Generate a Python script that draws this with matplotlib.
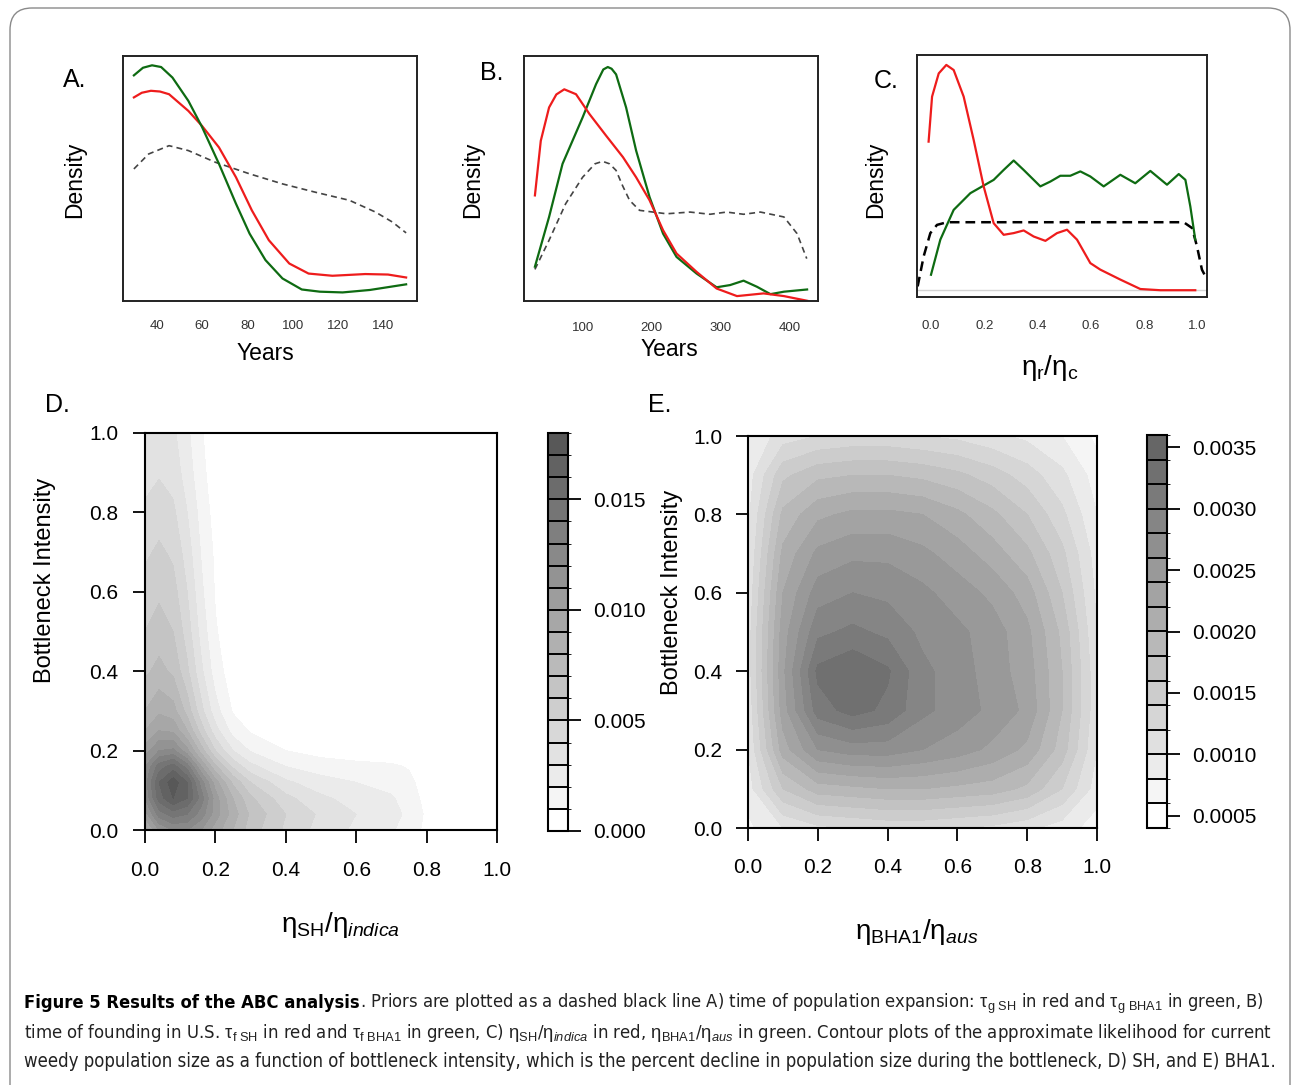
import numpy as np
import matplotlib.pyplot as plt
from matplotlib.colors import ListedColormap, BoundaryNorm
from matplotlib.patches import FancyBboxPatch
from matplotlib.font_manager import FontProperties, fontManager

plt.rcParams['font.family'] = ['Liberation Sans', 'DejaVu Sans']
plt.rcParams['mathtext.fontset'] = 'custom'
plt.rcParams['mathtext.rm'] = 'Liberation Sans'
plt.rcParams['mathtext.it'] = 'Liberation Sans:italic'
plt.rcParams['mathtext.bf'] = 'Liberation Sans:bold'
plt.rcParams['lines.scale_dashes'] = False

# ---- panel A: time of population expansion (density, relative height) ----
years_A_green = [30, 34, 38, 42, 47, 54, 60, 67.5, 75, 81, 88, 95.5, 104, 112, 122, 134, 150]
dens_A_green = [0.921, 0.952, 0.962, 0.955, 0.912, 0.817, 0.711, 0.560, 0.397, 0.275,
                0.167, 0.092, 0.047, 0.038, 0.035, 0.045, 0.068]
years_A_red = [30, 33.5, 37.5, 41.5, 45.5, 54, 60, 67.5, 75, 82, 89.5, 98.5, 107, 117.5, 132, 142, 150]
dens_A_red = [0.831, 0.850, 0.858, 0.855, 0.844, 0.776, 0.715, 0.627, 0.505, 0.370,
              0.248, 0.153, 0.112, 0.103, 0.110, 0.108, 0.096]
years_A_prior = [30, 36.5, 45.5, 54, 66, 81, 95.5, 110, 125, 136.5, 144, 150]
dens_A_prior = [0.539, 0.600, 0.634, 0.614, 0.566, 0.519, 0.478, 0.444, 0.411, 0.363, 0.322, 0.278]
ticks_A = [40, 60, 80, 100, 120, 140]

# ---- panel B: time of founding ----
years_B_green = [31, 51.5, 71, 100, 119.5, 130, 136.5, 142, 148.5, 163, 177.5, 197, 216.5,
                 236, 265, 294, 313.5, 333, 352.5, 372, 391.5, 425]
dens_B_green = [0.140, 0.343, 0.560, 0.749, 0.885, 0.945, 0.955, 0.948, 0.925, 0.790, 0.614,
                0.424, 0.275, 0.180, 0.112, 0.056, 0.065, 0.083, 0.058, 0.028, 0.038, 0.047]
years_B_red = [31, 39.5, 51.5, 62, 73.5, 90.5, 110, 134, 158.5, 177.5, 197, 216.5, 236, 265,
               294, 323.5, 362, 391.5, 425]
dens_B_red = [0.431, 0.654, 0.790, 0.843, 0.864, 0.844, 0.763, 0.675, 0.587, 0.505, 0.411,
              0.289, 0.194, 0.119, 0.051, 0.020, 0.031, 0.020, 0.001]
years_B_prior = [31, 51.5, 75.5, 100, 118, 129, 139, 148.5, 158, 168, 182.5, 221.5, 255.5,
                 284.5, 308.5, 333, 357.5, 391.5, 410.5, 424.5]
dens_B_prior = [0.129, 0.248, 0.397, 0.505, 0.560, 0.570, 0.560, 0.533, 0.470, 0.411, 0.370,
                0.356, 0.363, 0.354, 0.363, 0.354, 0.363, 0.343, 0.275, 0.173]
ticks_B = [100, 200, 300, 400]

# ---- panel C: eta ratio ----
ratio_C_red = [-0.009, 0.004, 0.029, 0.0575, 0.085, 0.1225, 0.16, 0.1975, 0.235, 0.2725, 0.31,
               0.3475, 0.385, 0.429, 0.4725, 0.51, 0.5475, 0.5975, 0.635, 0.71, 0.785, 0.86, 0.991]
dens_C_red = [0.642, 0.828, 0.924, 0.959, 0.938, 0.828, 0.649, 0.457, 0.305, 0.257, 0.264,
              0.275, 0.250, 0.232, 0.264, 0.278, 0.237, 0.140, 0.113, 0.072, 0.033, 0.028, 0.028]
ratio_C_green = [0.0, 0.035, 0.085, 0.1475, 0.235, 0.2725, 0.31, 0.3475, 0.41, 0.4475, 0.485,
                 0.5225, 0.56, 0.5975, 0.6475, 0.71, 0.766, 0.8225, 0.885, 0.929, 0.954, 0.9725, 0.991]
dens_C_green = [0.092, 0.237, 0.360, 0.429, 0.484, 0.525, 0.564, 0.525, 0.457, 0.477, 0.501,
                0.501, 0.519, 0.498, 0.457, 0.505, 0.470, 0.521, 0.464, 0.508, 0.484, 0.374, 0.237]
ratio_C_prior = [-0.05, -0.0275, -0.0025, 0.0225, 0.06, 0.9475, 0.979, 0.9975, 1.016, 1.0325]
dens_C_prior = [0.044, 0.168, 0.264, 0.298, 0.309, 0.309, 0.285, 0.209, 0.113, 0.078]
zero_C = 0.03
ticks_C = [0.0, 0.2, 0.4, 0.6, 0.8, 1.0]

# ---- panel D: likelihood surface for SH (units of 1e-3) ----
xs_D = [0.0, 0.04, 0.08, 0.12, 0.16, 0.2, 0.25, 0.3, 0.4, 0.5, 0.6, 0.7, 0.75, 0.8, 0.9, 1.0]
ys_D = [0.0, 0.04, 0.08, 0.12, 0.16, 0.2, 0.25, 0.3, 0.4, 0.5, 0.6, 0.7, 0.8, 0.9, 1.0]
lik_D = [
    [8.5, 11.0, 12.0, 12.0, 11.0, 9.5, 8.0, 6.5, 4.8, 3.6, 2.8, 2.1, 1.6, 0.7, 0, 0],
    [10.5, 13.5, 14.5, 14.0, 12.5, 10.5, 8.5, 6.8, 5.0, 3.8, 3.0, 2.3, 1.8, 0.8, 0, 0],
    [12.0, 15.5, 17.0, 16.0, 13.5, 10.5, 8.0, 6.2, 4.3, 3.2, 2.6, 2.1, 1.6, 0.6, 0, 0],
    [12.5, 16.0, 17.6, 16.0, 12.5, 9.5, 6.8, 5.0, 3.2, 2.4, 2.0, 1.7, 1.3, 0.4, 0, 0],
    [12.0, 14.5, 15.5, 13.5, 10.0, 7.2, 4.8, 3.3, 2.0, 1.5, 1.3, 1.2, 0.9, 0.2, 0, 0],
    [10.5, 12.0, 12.2, 10.3, 7.5, 5.0, 3.0, 1.9, 1.0, 0.6, 0.4, 0.2, 0.1, 0, 0, 0],
    [9.0, 10.0, 9.8, 8.0, 5.5, 3.4, 1.6, 0.9, 0.2, 0, 0, 0, 0, 0, 0, 0],
    [8.0, 8.8, 8.4, 6.6, 4.3, 2.4, 0.9, 0.3, 0, 0, 0, 0, 0, 0, 0, 0],
    [6.8, 7.3, 6.8, 5.2, 3.2, 1.5, 0.4, 0.05, 0, 0, 0, 0, 0, 0, 0, 0],
    [6.0, 6.5, 6.0, 4.5, 2.6, 1.1, 0.3, 0, 0, 0, 0, 0, 0, 0, 0, 0],
    [5.4, 5.8, 5.4, 4.0, 2.2, 0.9, 0.2, 0, 0, 0, 0, 0, 0, 0, 0, 0],
    [4.8, 5.2, 4.8, 3.5, 1.9, 0.8, 0.1, 0, 0, 0, 0, 0, 0, 0, 0, 0],
    [4.2, 4.5, 4.2, 3.0, 1.6, 0.6, 0.1, 0, 0, 0, 0, 0, 0, 0, 0, 0],
    [3.6, 3.9, 3.6, 2.5, 1.3, 0.4, 0, 0, 0, 0, 0, 0, 0, 0, 0, 0],
    [3.2, 3.5, 3.2, 2.2, 1.1, 0.3, 0, 0, 0, 0, 0, 0, 0, 0, 0, 0],
]
levels_D = np.linspace(0, 0.018, 19)
cbar_ticks_D = [0.0, 0.005, 0.010, 0.015]

# ---- panel E: likelihood surface for BHA1 (units of 1e-4) ----
xs_E = [0.0, 0.1, 0.2, 0.3, 0.4, 0.5, 0.6, 0.7, 0.8, 0.9, 1.0]
ys_E = [0.0, 0.1, 0.2, 0.3, 0.4, 0.5, 0.6, 0.7, 0.8, 0.9, 1.0]
lik_E = [
    [7.5, 10.0, 11.5, 12.0, 12.5, 12.5, 12.0, 11.5, 10.5, 9.0, 7.0],
    [9.0, 16.0, 19.0, 19.5, 20.0, 20.0, 19.5, 19.0, 17.5, 14.0, 9.0],
    [10.0, 21.0, 26.0, 27.0, 27.0, 26.0, 25.0, 23.5, 21.5, 17.0, 10.0],
    [10.5, 23.0, 31.0, 32.8, 31.5, 28.5, 27.0, 25.5, 23.5, 18.0, 10.5],
    [11.0, 23.5, 32.5, 33.8, 32.3, 28.5, 27.0, 25.0, 23.0, 18.0, 10.5],
    [11.0, 23.0, 29.5, 30.5, 29.5, 27.5, 26.5, 25.0, 22.5, 17.5, 10.0],
    [10.5, 22.0, 27.0, 28.0, 27.5, 26.5, 25.0, 23.5, 21.0, 16.0, 9.5],
    [10.0, 20.5, 24.5, 25.5, 25.5, 24.5, 23.0, 21.0, 18.5, 14.5, 9.0],
    [9.5, 18.5, 21.5, 22.5, 22.5, 22.0, 20.5, 18.5, 16.0, 12.5, 8.0],
    [9.0, 15.5, 17.5, 18.0, 18.0, 17.5, 16.5, 15.0, 13.0, 10.5, 7.0],
    [8.0, 11.0, 12.0, 12.5, 12.5, 12.0, 11.5, 10.5, 9.5, 8.0, 5.5],
]
levels_E = np.linspace(0.0004, 0.0036, 17)
cbar_ticks_E = [0.0005, 0.0010, 0.0015, 0.0020, 0.0025, 0.0030, 0.0035]

RED = '#ee1c1c'
GREEN = '#0e6b12'

W, H = 1292, 1085
fig = plt.figure(figsize=(W / 100, H / 100), dpi=100)


def px_axes(left, top, right, bottom):
    return fig.add_axes([left / W, 1 - bottom / H, (right - left) / W, (bottom - top) / H])


def ftext(x, y, s, **kw):
    kw.setdefault('ha', 'center')
    kw.setdefault('va', 'center')
    return fig.text(x / W, 1 - y / H, s, **kw)


# rounded outer frame
bg = fig.add_axes([0, 0, 1, 1], zorder=-5)
bg.set_xlim(0, W)
bg.set_ylim(H, 0)
bg.axis('off')
bg.add_patch(FancyBboxPatch((10, 8), 1280, 1120, boxstyle='round,pad=0,rounding_size=22',
                            fc='none', ec='#8a8a8a', lw=1.0))


def density_axes(ax, xlim, ticks, labels, pad):
    ax.set_xlim(*xlim)
    ax.set_ylim(0, 1)
    ax.set_yticks([])
    ax.set_xticks(ticks)
    ax.set_xticklabels(labels)
    ax.tick_params(axis='x', length=0, pad=pad, labelsize=9.5, labelcolor='#333333')
    for sp in ax.spines.values():
        sp.set_color('#222222')
        sp.set_linewidth(1.4)


# A
axA = px_axes(123, 56, 417, 301)
axA.plot(years_A_prior, dens_A_prior, color='#444444', lw=1.2, ls=(0, (4.3, 3.0)))
axA.plot(years_A_red, dens_A_red, color=RED, lw=1.6)
axA.plot(years_A_green, dens_A_green, color=GREEN, lw=1.6)
density_axes(axA, (25.2, 154.8), ticks_A, [str(t) for t in ticks_A], 14.0)

# B
axB = px_axes(524, 56, 818, 301)
axB.plot(years_B_prior, dens_B_prior, color='#444444', lw=1.2, ls=(0, (4.3, 3.0)))
axB.plot(years_B_green, dens_B_green, color=GREEN, lw=1.6)
axB.plot(years_B_red, dens_B_red, color=RED, lw=1.6)
density_axes(axB, (15.2, 440.8), ticks_B, [str(t) for t in ticks_B], 15.4)

# C
axC = px_axes(917, 55, 1207, 297)
axC.axhline(zero_C, color='#d4d4d4', lw=1.0)
axC.plot(ratio_C_prior, dens_C_prior, color='black', lw=1.8, ls=(0, (7.0, 4.3)))
axC.plot(ratio_C_green, dens_C_green, color=GREEN, lw=1.6)
axC.plot(ratio_C_red, dens_C_red, color=RED, lw=1.6)
density_axes(axC, (-0.0525, 1.035), ticks_C, ['%.1f' % t for t in ticks_C], 16.2)

for x, y, s in [(75, 80, 'A.'), (492, 73, 'B.'), (886, 81, 'C.'), (57, 405, 'D.'), (660, 405, 'E.')]:
    ftext(x, y, s, fontsize=18)
for x in (75, 473, 876):
    ftext(x, 180, 'Density', fontsize=16.5, rotation=90)
ftext(265, 354, 'Years', fontsize=16.5)
ftext(669, 350, 'Years', fontsize=16.5)
ftext(1050, 368, r'$\mathrm{\eta_r/\eta_c}$', fontsize=20)


def gray_cmap(n, darkest):
    return ListedColormap([str(g) for g in np.linspace(1.0, darkest, n)])


def contour_panel(box, cbox, xs, ys, z, scale, levels, darkest, cticks, cfmt, xpad, ypad):
    ax = px_axes(*box)
    n = len(levels) - 1
    cmap = gray_cmap(n, darkest)
    norm = BoundaryNorm(levels, n)
    cs = ax.contourf(xs, ys, np.array(z) * scale, levels=levels, cmap=cmap, norm=norm)
    ax.set_xlim(0, 1)
    ax.set_ylim(0, 1)
    ticks = [0.0, 0.2, 0.4, 0.6, 0.8, 1.0]
    ax.set_xticks(ticks)
    ax.set_yticks(ticks)
    ax.set_xticklabels(['%.1f' % t for t in ticks])
    ax.set_yticklabels(['%.1f' % t for t in ticks])
    ax.tick_params(axis='x', length=9, width=1.3, pad=xpad, labelsize=15)
    ax.tick_params(axis='y', length=9, width=1.3, pad=ypad, labelsize=15)
    for sp in ax.spines.values():
        sp.set_linewidth(1.5)
    cax = px_axes(*cbox)
    cb = fig.colorbar(cs, cax=cax, drawedges=True)
    cb.outline.set_linewidth(1.5)
    cb.dividers.set_color('black')
    cb.dividers.set_linewidth(1.4)
    cb.set_ticks(cticks)
    cb.set_ticklabels([cfmt % t for t in cticks])
    cax.tick_params(length=9, width=1.3, pad=9, labelsize=15)
    return ax


contour_panel((145, 433, 497, 830), (548, 433, 568, 831), xs_D, ys_D, lik_D, 1e-3,
              levels_D, 0.345, cbar_ticks_D, '%.3f', 13.6, 10)
contour_panel((748, 436, 1097, 828), (1147, 435, 1167, 828), xs_E, ys_E, lik_E, 1e-4,
              levels_E, 0.40, cbar_ticks_E, '%.4f', 12.3, 9.4)

ftext(45, 580, 'Bottleneck Intensity', fontsize=17, rotation=90)
ftext(672, 592, 'Bottleneck Intensity', fontsize=17, rotation=90)
ftext(340, 925, r'$\mathrm{\eta_{SH}/\eta}_{\mathit{indica}}$', fontsize=20)
ftext(917, 932, r'$\mathrm{\eta_{BHA1}/\eta}_{\mathit{aus}}$', fontsize=20)

# ---- caption: pick a narrow face if one is installed ----
names = {f.name for f in fontManager.ttflist}
condensed = [f.name for f in fontManager.ttflist
             if f.stretch in ('condensed', 'semi-condensed') or 'Narrow' in f.name
             or 'Condensed' in f.name]
if 'Liberation Sans Narrow' in names:
    cap_prop = dict(family='Liberation Sans Narrow')
elif 'DejaVu Sans' in condensed:
    cap_prop = dict(family='DejaVu Sans', stretch='condensed')
else:
    cap_prop = dict(family='Liberation Sans')
renderer = fig.canvas.get_renderer()


def caption_line(pieces, x0, baseline, width):
    objs = [fig.text(0, 0, s, fontsize=12, fontweight=w, color=c, va='baseline', ha='left',
                     **cap_prop) for s, w, c in pieces]
    total = sum(o.get_window_extent(renderer).width for o in objs)
    fs = 12 * width / total
    x = x0
    for o in objs:
        o.set_fontsize(fs)
        o.set_position((x / W, 1 - baseline / H))
        x += o.get_window_extent(renderer).width


caption_line([('Figure 5 Results of the ABC analysis', 'bold', 'black'),
              (r'. Priors are plotted as a dashed black line A) time of population expansion: '
               r'$\mathrm{\tau}_{\mathrm{g\ SH}}$ in red and $\mathrm{\tau}_{\mathrm{g\ BHA1}}$'
               r' in green, B)', 'normal', '#222222')], 24, 1008, 1241)
caption_line([(r'time of founding in U.S. $\mathrm{\tau}_{\mathrm{f\ SH}}$ in red and '
               r'$\mathrm{\tau}_{\mathrm{f\ BHA1}}$ in green, C) $\mathrm{\eta}_{\mathrm{SH}}$/'
               r'$\mathrm{\eta}_{\mathit{indica}}$ in red, $\mathrm{\eta}_{\mathrm{BHA1}}$/'
               r'$\mathrm{\eta}_{\mathit{aus}}$ in green. Contour plots of the approximate '
               r'likelihood for current', 'normal', '#222222')], 24, 1038, 1249)
caption_line([('weedy population size as a function of bottleneck intensity, which is the '
               'percent decline in population size during the bottleneck, D) SH, and E) BHA1.',
               'normal', '#222222')], 24, 1067, 1255)

fig.savefig('out.png', dpi=100, facecolor='white')
